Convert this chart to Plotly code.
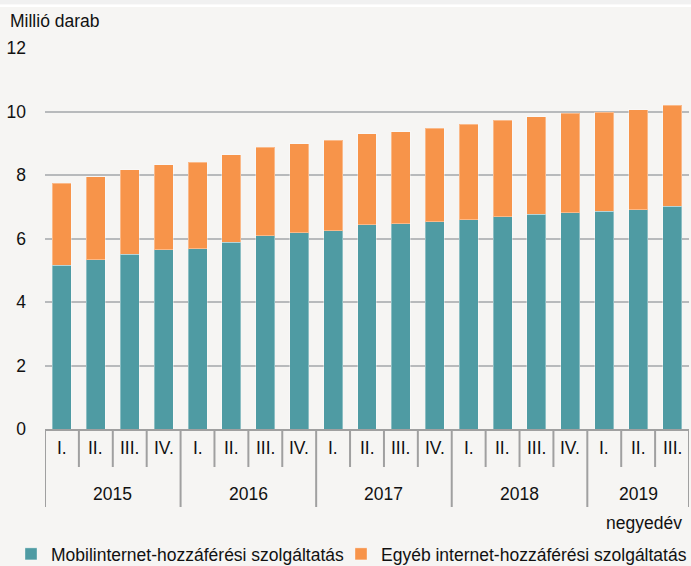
import plotly.graph_objects as go

years = ["2015"] * 4 + ["2016"] * 4 + ["2017"] * 4 + ["2018"] * 4 + ["2019"] * 3
quarters = ["I.", "II.", "III.", "IV."] * 4 + ["I.", "II.", "III."]
mobil = [5.16, 5.33, 5.51, 5.64, 5.67, 5.88, 6.08, 6.18, 6.25, 6.43,
         6.46, 6.52, 6.59, 6.68, 6.77, 6.81, 6.86, 6.90, 7.01]
egyeb = [2.58, 2.61, 2.66, 2.69, 2.73, 2.76, 2.80, 2.81, 2.84, 2.87,
         2.91, 2.96, 3.01, 3.04, 3.07, 3.13, 3.12, 3.15, 3.18]
y_ticks = [0, 2, 4, 6, 8, 10, 12]

FONT = "Liberation Sans, Arial, sans-serif"
FS = 17.5
TEAL = "#4f9ba3"
ORANGE = "#f7944a"
LINE = "#a0a0a0"
BG = "#f6f5f3"

cats = [f"{y} {q}" for y, q in zip(years, quarters)]

W, H = 691, 566
ML, MR, MT, MB = 45, 2, 48, 137
PH = H - MT - MB
PW = W - ML - MR

fig = go.Figure()
fig.add_trace(go.Bar(x=cats, y=mobil, name="Mobilinternet-hozzáférési szolgáltatás",
                     legend="legend",
                     marker=dict(color=TEAL, line=dict(color="rgba(255,255,255,0.35)", width=1))))
fig.add_trace(go.Bar(x=cats, y=egyeb, name="Egyéb internet-hozzáférési szolgáltatás",
                     legend="legend2",
                     marker=dict(color=ORANGE, line=dict(color="rgba(255,255,255,0.35)", width=1))))

def py(px_below_axis):
    return -px_below_axis / PH

def pxx(px):
    return (px - ML) / PW

shapes = []
n = len(cats)
for i in range(n + 1):
    long = i == 0 or i == n or years[i] != years[i - 1]
    shapes.append(dict(type="line", xref="x", yref="paper", x0=i - 0.5, x1=i - 0.5,
                       y0=0, y1=py(78 if long else 38), line=dict(color=LINE, width=2)))
# thin bands at the very top
shapes.append(dict(type="rect", xref="paper", yref="paper", x0=pxx(-2), x1=pxx(W + 2),
                   y0=1 + (MT - 4.5) / PH, y1=1 + (MT + 2) / PH, fillcolor="#f1f1f1",
                   line=dict(width=0), layer="above"))
shapes.append(dict(type="rect", xref="paper", yref="paper", x0=pxx(-2), x1=pxx(W + 2),
                   y0=1 + (MT - 7) / PH, y1=1 + (MT - 4.5) / PH, fillcolor="white",
                   line=dict(width=0), layer="above"))

annotations = []
for i, q in enumerate(quarters):
    annotations.append(dict(x=cats[i], y=py(19), xref="x", yref="paper", text=q,
                            showarrow=False, yanchor="middle", xanchor="center",
                            font=dict(size=FS)))
uniq = []
for y in years:
    if y not in uniq:
        uniq.append(y)
for yr in uniq:
    idx = [i for i, v in enumerate(years) if v == yr]
    annotations.append(dict(x=sum(idx) / len(idx), y=py(65), xref="x", yref="paper", text=yr,
                            showarrow=False, yanchor="middle", xanchor="center",
                            font=dict(size=FS)))
annotations.append(dict(x=pxx(684), y=py(523 - 429), xref="paper", yref="paper",
                        text="negyedév", showarrow=False, xanchor="right", yanchor="middle",
                        font=dict(size=FS)))
annotations.append(dict(x=pxx(8), y=1 + (MT - 21) / PH, xref="paper", yref="paper",
                        text="Millió darab", showarrow=False, xanchor="left", yanchor="middle",
                        font=dict(size=FS)))

leg_common = dict(orientation="h", xanchor="left", y=py(554 - 429), yanchor="middle",
                  font=dict(size=FS), bgcolor="rgba(0,0,0,0)", borderwidth=0)

fig.update_layout(
    width=W, height=H,
    margin=dict(l=ML, r=MR, t=MT, b=MB, autoexpand=False),
    barmode="stack", bargap=0.44,
    paper_bgcolor=BG, plot_bgcolor=BG,
    font=dict(family=FONT, size=FS, color="#111111"),
    showlegend=True,
    legend=dict(x=pxx(11), **leg_common),
    legend2=dict(x=pxx(341), **leg_common),
    xaxis=dict(type="category", showticklabels=False, ticks="", showgrid=False,
               showline=True, linecolor=LINE, linewidth=2, range=[-0.5, n - 0.5],
               zeroline=False),
    yaxis=dict(range=[0, 12], tickvals=y_ticks, showgrid=True, gridcolor="#b8babc",
               gridwidth=1.5, zeroline=False, showline=False, ticks="",
               ticklabelstandoff=18, tickfont=dict(size=FS)),
    shapes=shapes, annotations=annotations,
)

fig.write_html("out.html", config={"displayModeBar": False},
               post_script="document.body.style.margin='0';")
